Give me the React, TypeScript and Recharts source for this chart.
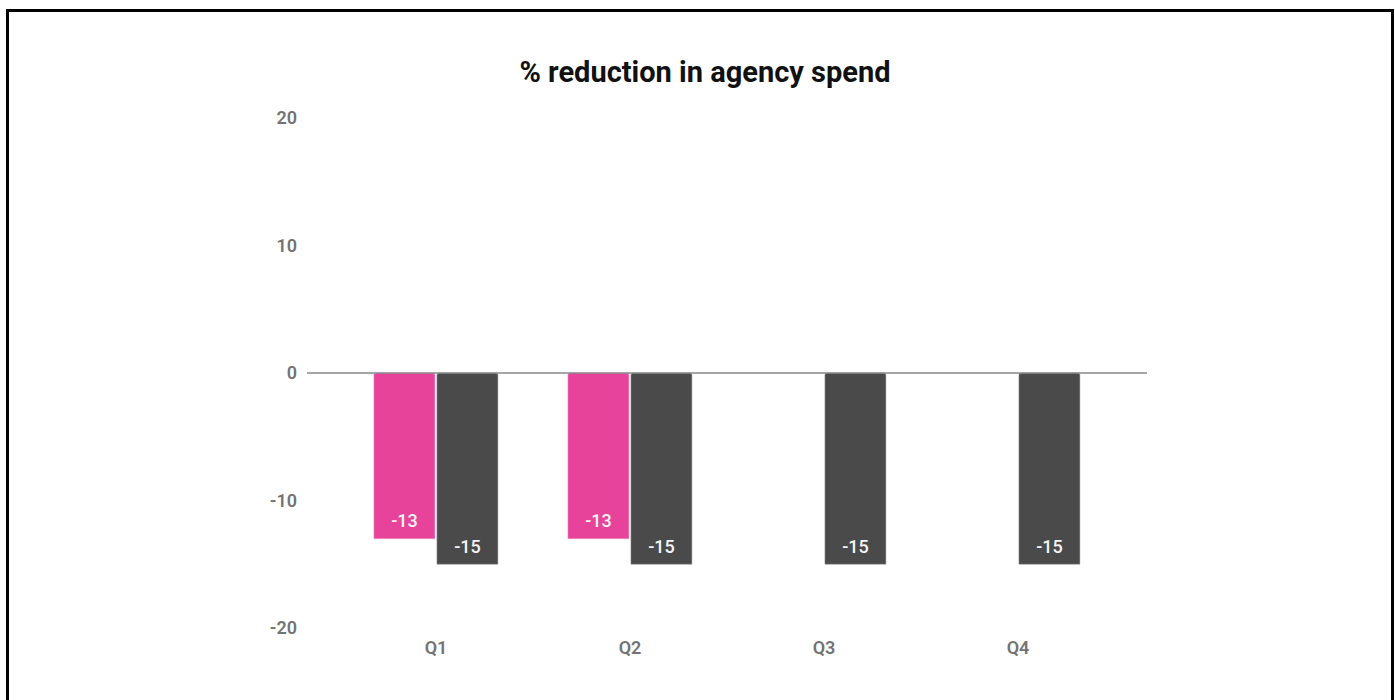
import React from "react";
import { BarChart, Bar, XAxis, YAxis, ReferenceLine } from "recharts";

const quarters = ["Q1", "Q2", "Q3", "Q4"];
const pinkValues: (number | null)[] = [-13, -13, null, null];
const darkValues: number[] = [-15, -15, -15, -15];
const yTicks = [-20, -10, 0, 10, 20];
const title = "% reduction in agency spend";

const data = quarters.map((q, i) => ({ q, pink: pinkValues[i], dark: darkValues[i] }));

const FONT = "Roboto, 'Noto Sans', sans-serif";

const InsideLabel = (props: any) => {
  const { x, y, width, height, value } = props;
  if (value === null || value === undefined) return null;
  const bottom = Math.max(y, y + height);
  return (
    <text
      x={x + width / 2}
      y={bottom - 18}
      textAnchor="middle"
      dominantBaseline="central"
      fill="#f4f4f4"
      fontSize={18}
      fontWeight={500}
      fontFamily={FONT}
    >
      {value}
    </text>
  );
};

export default function App() {
  return (
    <div style={{ position: "absolute", left: 0, top: 0, width: 1395, height: 700, overflow: "hidden", background: "#fff" }}>
      <div
        style={{
          position: "absolute",
          left: 6,
          top: 9,
          width: 1382,
          height: 720,
          border: "3px solid #000",
          boxSizing: "content-box",
        }}
      />
      <div
        style={{
          position: "absolute",
          left: 0,
          width: 1410,
          top: 54,
          textAlign: "center",
          fontFamily: FONT,
          fontWeight: 700,
          fontSize: 29,
          lineHeight: "36px",
          color: "#111",
        }}
      >
        {title}
      </div>
      <div style={{ position: "absolute", left: 0, top: 0 }}>
        <BarChart
          width={1395}
          height={700}
          data={data}
          margin={{ top: 118, right: 248, bottom: 42, left: 247 }}
          barGap={2}
          barCategoryGap="18%"
        >
          <XAxis
            dataKey="q"
            height={30}
            axisLine={false}
            tickLine={false}
            tickSize={0}
            tickMargin={13}
            padding={{ left: 32, right: 32 }}
            tick={{ fill: "#737373", fontSize: 18, fontFamily: FONT, fontWeight: 600 }}
          />
          <YAxis
            width={60}
            domain={[-20, 20]}
            ticks={yTicks}
            axisLine={false}
            tickLine={false}
            tickSize={0}
            tickMargin={10}
            tick={{ fill: "#737373", fontSize: 18, fontFamily: FONT, fontWeight: 600 }}
          />
          <ReferenceLine y={0} stroke="#888" strokeWidth={1.5} ifOverflow="extendDomain" />
          <Bar
            dataKey="pink"
            fill="#e8439a"
            stroke="#e8a0c4"
            strokeWidth={0.5}
            radius={[0, 0, 2, 2]}
            isAnimationActive={false}
            label={<InsideLabel />}
          />
          <Bar
            dataKey="dark"
            fill="#4a4a4a"
            stroke="#9a9a9a"
            strokeWidth={0.5}
            radius={[0, 0, 2, 2]}
            isAnimationActive={false}
            label={<InsideLabel />}
          />
        </BarChart>
      </div>
    </div>
  );
}
